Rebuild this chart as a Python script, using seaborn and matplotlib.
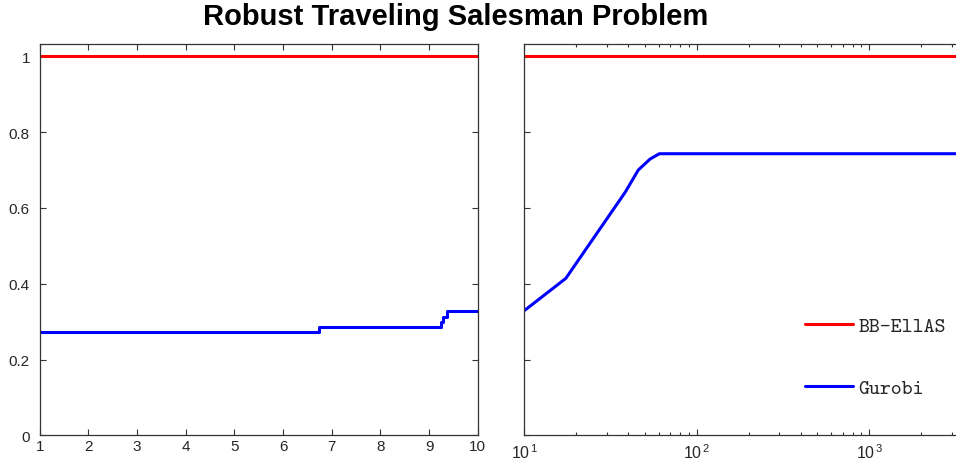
import numpy as np
import pandas as pd
import matplotlib
matplotlib.use("Agg")
import matplotlib.pyplot as plt
import matplotlib.ticker as mticker
import seaborn as sns

# ---- data ----
solvers = ["BB-EllAS", "Gurobi"]
colors = ["#ff0000", "#0000ff"]

# left panel (ratio, step profile)
left_bb_x = [1, 10]
left_bb_y = [1.0, 1.0]
left_gu_x = [1, 6.73, 9.24, 9.29, 9.36, 10]
left_gu_y = [0.2726, 0.2857, 0.300, 0.312, 0.329, 0.329]

# right panel (time, log scale)
right_bb_x = [10, 3600]
right_bb_y = [1.0, 1.0]
right_gu_x = [10, 17.4, 38.4, 45.8, 53.6, 60.7, 3600]
right_gu_y = [0.329, 0.414, 0.641, 0.700, 0.729, 0.743, 0.743]

left_xticks = [1, 2, 3, 4, 5, 6, 7, 8, 9, 10]
yticks = [0, 0.2, 0.4, 0.6, 0.8, 1]
ytick_labels = ["0", "0.2", "0.4", "0.6", "0.8", "1"]
title = "Robust Traveling Salesman Problem"

# ---- style ----
sns.set_style("white")
plt.rcParams["font.family"] = ["Liberation Sans", "DejaVu Sans"]
plt.rcParams["mathtext.fontset"] = "custom"
plt.rcParams["mathtext.rm"] = "Liberation Sans"
plt.rcParams["mathtext.it"] = "Liberation Sans"

axcol = "#333333"
txtcol = "#262626"

W, H = 956, 464
fig = plt.figure(figsize=(W / 100, H / 100), dpi=100)

def frac(x0, y0, x1, y1):
    return [x0 / W, 1 - y1 / H, (x1 - x0) / W, (y1 - y0) / H]

ax1 = fig.add_axes(frac(39.7, 45, 477.7, 436.3))
decade = 172.5
x_right_end = 524.3 + decade * np.log10(3600 / 10)
ax2 = fig.add_axes(frac(524.3, 45, x_right_end, 436.3))

df_left = pd.DataFrame({
    "x": left_bb_x + left_gu_x,
    "y": left_bb_y + left_gu_y,
    "solver": [solvers[0]] * len(left_bb_x) + [solvers[1]] * len(left_gu_x),
})
df_right = pd.DataFrame({
    "x": right_bb_x + right_gu_x,
    "y": right_bb_y + right_gu_y,
    "solver": [solvers[0]] * len(right_bb_x) + [solvers[1]] * len(right_gu_x),
})
pal = dict(zip(solvers, colors))

sns.lineplot(data=df_left, x="x", y="y", hue="solver", palette=pal, ax=ax1,
             legend=False, linewidth=2.2, drawstyle="steps-post",
             estimator=None, sort=False)
sns.lineplot(data=df_right, x="x", y="y", hue="solver", palette=pal, ax=ax2,
             legend=False, linewidth=2.2, estimator=None, sort=False)

ylim = (0, 1.0325)
for ax in (ax1, ax2):
    ax.set_ylim(*ylim)
    ax.set_xlabel("")
    ax.set_ylabel("")
    ax.set_yticks(yticks)
    for s in ax.spines.values():
        s.set_visible(True)
        s.set_color(axcol)
        s.set_linewidth(0.9)
    ax.tick_params(which="both", direction="in", top=True, right=True,
                   left=True, bottom=True,
                   color=axcol, labelcolor=txtcol, labelsize=11, width=0.8)
    ax.tick_params(which="major", length=4.5)
    ax.tick_params(which="minor", length=2.5)
    ax.tick_params(axis="x", pad=3)
    ax.tick_params(axis="y", pad=7)
    ax.grid(False)

ax1.set_xlim(1, 10)
ax1.set_xticks(left_xticks)
ax1.set_xticklabels([str(v) for v in left_xticks])
ax1.set_yticklabels(ytick_labels)

ax2.set_xscale("log")
ax2.set_xlim(10, 3600)
ax2.xaxis.set_major_locator(mticker.LogLocator(base=10))
ax2.xaxis.set_minor_locator(mticker.LogLocator(base=10, subs=np.arange(2, 10)))
ax2.xaxis.set_major_formatter(mticker.FuncFormatter(lambda v, p: r"$10^{\,%d}$" % round(np.log10(v))))
ax2.xaxis.set_minor_formatter(mticker.NullFormatter())
ax2.tick_params(axis="y", labelleft=False)
ax2.tick_params(axis="x", labelsize=11.5, pad=5)

handles = ax2.get_lines()[:2]
leg = fig.legend(handles, solvers, loc="center left",
                 bbox_to_anchor=(805 / W, 1 - 358.4 / H),
                 frameon=False, borderpad=0, borderaxespad=0,
                 handlelength=2.3, handletextpad=0.25, labelspacing=2.05,
                 prop={"family": "cmtt10", "size": 15})

fig.text(456 / W, 1 - 25 / H, title, ha="center", va="baseline",
         fontsize=21, fontweight="bold", color="black")

fig.savefig("out.png", dpi=100)
